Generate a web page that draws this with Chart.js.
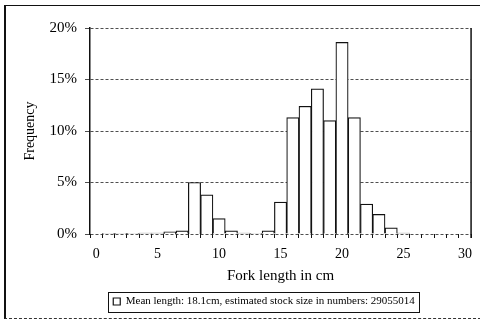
<!DOCTYPE html>
<html>
<head>
<meta charset="utf-8">
<script src="https://cdn.jsdelivr.net/npm/chart.js@4/dist/chart.umd.min.js"></script>
<style>
  html, body { margin: 0; padding: 0; background: #fff; }
  #wrap { position: relative; width: 480px; height: 321px; overflow: hidden; }
  #frame { position: absolute; left: 4px; top: 5px; width: 480px; height: 312px;
    border-left: 2px solid #111; border-top: 1px solid #111; border-bottom: 1px dashed #333; }
  #c { position: absolute; left: 0; top: 0; }
</style>
</head>
<body>
<div id="wrap">
  <div id="frame"></div>
  <canvas id="c" width="480" height="321"></canvas>
</div>
<script>
/* Fork length frequency histogram */
const lengths = Array.from({ length: 31 }, (_, i) => String(i));
const freqPct = [
  0, 0.05, 0.05, 0.05, 0.1, 0.1, 0.2, 0.3, 5.0, 3.8,
  1.5, 0.3, 0.1, 0.05, 0.3, 3.1, 11.3, 12.4, 14.1, 11.0,
  18.6, 11.3, 2.9, 1.9, 0.6, 0.1, 0, 0, 0, 0, 0,
];
const yTicks = [0, 5, 10, 15, 20];
const legendText = 'Mean length: 18.1cm, estimated stock size in numbers: 29055014';

const SERIF = "'Liberation Serif', 'Times New Roman', serif";

const frameLines = {
  id: 'frameLines',
  afterLayout(chart) {
    // nudge the legend so it sits under the plot the way the scan does
    const lg = chart.legend;
    if (lg) { const dx = 26; lg.left += dx; lg.right += dx; }
  },
  afterDraw(chart) {
    const { ctx, chartArea: a } = chart;
    ctx.save();
    ctx.strokeStyle = '#111';
    ctx.lineWidth = 1.5;
    ctx.beginPath();
    ctx.moveTo(a.right, a.top);
    ctx.lineTo(a.right, a.bottom + 4);
    ctx.stroke();
    const hb = chart.legend && chart.legend.legendHitBoxes[0];
    if (hb) {
      const cy = hb.top + hb.height / 2;
      ctx.lineWidth = 1;
      ctx.strokeRect(Math.round(hb.left - 5) + 0.5, Math.round(cy - 10) + 0.5, Math.round(hb.width + 9), 20);
    }
    ctx.restore();
  },
};

new Chart(document.getElementById('c'), {
  type: 'bar',
  data: {
    labels: lengths,
    datasets: [{
      label: legendText,
      data: freqPct,
      backgroundColor: '#fff',
      borderColor: '#111',
      borderWidth: 1.2,
      categoryPercentage: 1,
      barPercentage: 1,
    }],
  },
  options: {
    responsive: false,
    animation: false,
    layout: { padding: { left: 0, right: 4, top: 28, bottom: 4 } },
    plugins: {
      tooltip: { enabled: false },
      legend: {
        position: 'bottom',
        labels: {
          color: '#000',
          font: { family: SERIF, size: 11 },
          boxWidth: 7, boxHeight: 7, padding: 10,
        },
      },
    },
    scales: {
      x: {
        offset: true,
        afterFit: (s) => { s.height = 52; },
        border: { display: false },
        grid: { offset: true, drawOnChartArea: false, tickLength: 4, color: '#111' },
        ticks: {
          autoSkip: false, maxRotation: 0, padding: 8, color: '#000',
          font: { family: SERIF, size: 14 },
          callback: (v) => (v % 5 === 0 ? String(v) : ''),
        },
        title: { display: true, text: 'Fork length in cm', color: '#000',
          font: { family: SERIF, size: 15 }, padding: { top: 0, bottom: 1 } },
      },
      y: {
        min: 0, max: 20,
        afterFit: (s) => { s.width = 90; },
        afterBuildTicks: (s) => { s.ticks = yTicks.map((v) => ({ value: v })); },
        border: { display: true, color: '#111', width: 1.5, dash: [3, 2] },
        grid: { color: '#222', lineWidth: 0.8, tickLength: 5 },
        ticks: { padding: 8, color: '#000', font: { family: SERIF, size: 15 },
          callback: (v) => v + '%' },
        title: { display: true, text: 'Frequency', color: '#000',
          font: { family: SERIF, size: 14 }, padding: { top: 22, bottom: 0 } },
      },
    },
  },
  plugins: [frameLines],
});
</script>
</body>
</html>
